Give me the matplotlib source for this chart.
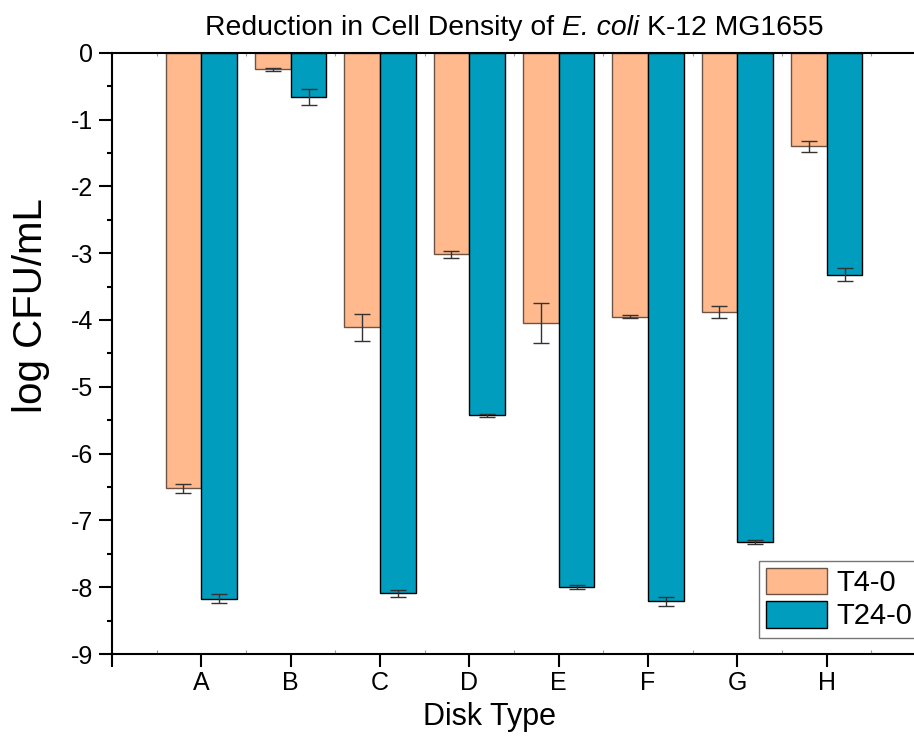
import matplotlib
matplotlib.use("Agg")
import matplotlib.pyplot as plt
import numpy as np

plt.rcParams["font.family"] = ["Liberation Sans", "DejaVu Sans"]
plt.rcParams["axes.unicode_minus"] = False

disks = ["A", "B", "C", "D", "E", "F", "G", "H"]
t4_mean = [-6.52, -0.25, -4.11, -3.02, -4.04, -3.95, -3.88, -1.40]
t4_err = [0.07, 0.02, 0.20, 0.05, 0.30, 0.02, 0.09, 0.08]
t24_mean = [-8.17, -0.67, -8.09, -5.43, -8.00, -8.21, -7.32, -3.32]
t24_err = [0.07, 0.12, 0.05, 0.02, 0.03, 0.07, 0.03, 0.09]

orange = "#FFB98C"
teal = "#009DBE"

fig = plt.figure(figsize=(9.14, 7.4), dpi=100)
ax = fig.add_axes([0.1225, 0.1162, 0.8797, 0.8126])

x = np.arange(1, len(disks) + 1)
w = 0.4
err_kw = dict(ecolor="#333333", elinewidth=1.0, capsize=5.5, capthick=1.0)
ax.bar(x - w / 2, t4_mean, w, yerr=t4_err, color=orange, edgecolor="#6b5346",
       linewidth=1.0, error_kw=err_kw, label="T4-0", zorder=2)
ax.bar(x + w / 2, t24_mean, w, yerr=t24_err, color=teal, edgecolor="black",
       linewidth=1.0, error_kw=err_kw, label="T24-0", zorder=2)

ax.set_xlim(0, 9)
ax.set_ylim(-9, 0)

ax.set_xticks(np.arange(0, 10))
ax.set_xticklabels([""] + disks + [""])
ax.set_xticks(np.arange(0.5, 9, 1), minor=True)
ax.set_yticks(np.arange(-9, 1))
ax.set_yticks(np.arange(-8.5, 0, 1), minor=True)

ax.tick_params(axis="x", which="major", direction="out", length=9.4, width=1.5,
               labelsize=18, pad=3)
ax.tick_params(axis="x", which="minor", direction="in", length=3, width=0.8,
               color="#999999")
ax.tick_params(axis="y", which="major", direction="out", length=9.4, width=1.5,
               labelsize=18, pad=4)
ax.tick_params(axis="y", which="minor", direction="out", length=3.6, width=1.5)

top = ax.secondary_xaxis("top")
top.set_xticks(np.arange(0, 9.01, 0.5))
top.tick_params(direction="in", length=2.5, width=0.8, color="#999999",
                labeltop=False)
top.spines["top"].set_visible(False)

for side in ("left", "bottom", "top"):
    ax.spines[side].set_linewidth(1.5)
ax.spines["right"].set_visible(False)

# title in three pieces so only the species name is italic
title_size = 20.4
space_px = 0.278 * title_size * 100 / 72
base_y = 1 - 35 / 740
t1 = fig.text(0.5, base_y, "Reduction in Cell Density of",
              fontsize=title_size, ha="left", va="baseline")
t2 = fig.text(0, base_y, "E. coli", fontsize=title_size, style="italic",
              va="baseline")
t3 = fig.text(0, base_y, "K-12 MG1655", fontsize=title_size, va="baseline")
fig.canvas.draw()
r = fig.canvas.get_renderer()
w1 = t1.get_window_extent(r).width
w2 = t2.get_window_extent(r).width
w3 = t3.get_window_extent(r).width
total = w1 + w2 + w3 + 2 * space_px
ax_box = ax.get_window_extent(r)
x0 = (ax_box.x0 + ax_box.x1) / 2 - total / 2
W = fig.bbox.width
t1.set_position((x0 / W, base_y))
t2.set_position(((x0 + w1 + space_px) / W, base_y))
t3.set_position(((x0 + w1 + w2 + 2 * space_px) / W, base_y))

ax.set_ylabel("log CFU/mL", fontsize=29)
ax.yaxis.set_label_coords(-0.077, 0.58)
ax.set_xlabel("Disk Type", fontsize=22)
ax.xaxis.set_label_coords(0.469, -0.08)

leg = ax.legend(loc="lower right", bbox_to_anchor=(1.004, 0.027), fontsize=21,
                frameon=True, fancybox=False, edgecolor="#555555",
                handlelength=2.1, handleheight=1.0, handletextpad=0.3,
                labelspacing=0.15, borderpad=0.25, borderaxespad=0.0)
leg.get_frame().set_linewidth(1.0)

fig.savefig("out.png", dpi=100)
